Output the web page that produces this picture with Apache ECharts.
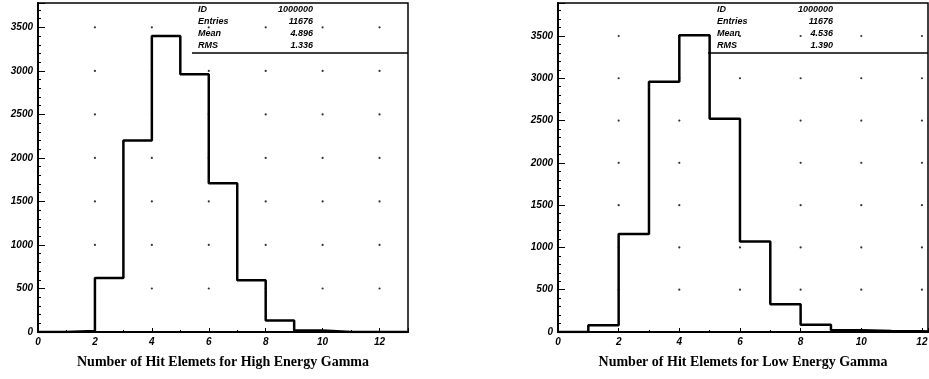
<!DOCTYPE html>
<html>
<head>
<meta charset="utf-8">
<script src="https://cdn.jsdelivr.net/npm/echarts@6/dist/echarts.min.js"></script>
<style>
html,body{margin:0;padding:0;background:#fff;}
#chart{width:929px;height:379px;}
</style>
</head>
<body>
<div id="chart"></div>
<script>
// ---- data ----
const binLowEdges = [0, 1, 2, 3, 4, 5, 6, 7, 8, 9, 10, 11, 12];
const binTopEdge = 13;
const highEnergyCounts = [0, 12, 620, 2200, 3400, 2960, 1710, 595, 133, 18, 0, 0, 0];
const lowEnergyCounts  = [0, 79, 1160, 2960, 3510, 2520, 1070, 328, 87, 22, 12, 8, 4];
const xGridTicks = [2, 4, 6, 8, 10, 12];
const yGridTicks = [500, 1000, 1500, 2000, 2500, 3000, 3500];
const statLabels = ['ID', 'Entries', 'Mean', 'RMS'];
const highStats = ['1000000', '11676', '4.896', '1.336'];
const lowStats  = ['1000000', '11676', '4.536', '1.390'];
const xTitles = ['Number of Hit Elemets for High Energy Gamma', 'Number of Hit Elemets for Low Energy Gamma'];

// ---- helpers ----
function histPoints(counts) {
  const pts = binLowEdges.map((e, i) => [e, counts[i]]);
  pts.push([binTopEdge, 0]);
  return pts;
}
function gridDots() {
  const pts = [];
  xGridTicks.forEach(x => yGridTicks.forEach(y => pts.push([x, y])));
  return pts;
}
const tickFont = { fontFamily: 'Liberation Sans', fontWeight: 'bold', fontStyle: 'italic', fontSize: 10, color: '#000', formatter: v => String(v) };

function xAxisCfg(gi, max, name) {
  return {
    type: 'value', gridIndex: gi, min: 0, max: max, interval: 2,
    name: name, nameLocation: 'middle', nameGap: 23,
    nameTextStyle: { fontFamily: 'Liberation Serif', fontWeight: 'bold', fontSize: 14, color: '#000' },
    axisLine: { show: true, onZero: false, lineStyle: { color: '#000', width: 2 } },
    axisTick: { show: true, inside: true, length: 4, lineStyle: { color: '#000' } },
    minorTick: { show: true, splitNumber: 2, length: 2, lineStyle: { color: '#000' } },
    axisLabel: Object.assign({ margin: 5, showMaxLabel: false }, tickFont),
    splitLine: { show: false }
  };
}
function yAxisCfg(gi, max) {
  return {
    type: 'value', gridIndex: gi, min: 0, max: max, interval: 500,
    axisLine: { show: true, lineStyle: { color: '#000', width: 2 } },
    axisTick: { show: true, inside: true, length: 7, lineStyle: { color: '#000' } },
    minorTick: { show: true, splitNumber: 5, length: 3, lineStyle: { color: '#000' } },
    axisLabel: Object.assign({ margin: 5, showMaxLabel: false }, tickFont),
    splitLine: { show: false }
  };
}
function histSeries(gi, counts) {
  return {
    type: 'line', xAxisIndex: gi, yAxisIndex: gi, step: 'end',
    data: histPoints(counts), showSymbol: false, symbol: 'none', silent: true,
    lineStyle: { color: '#000', width: 2.5 }, z: 3, clip: true, animation: false
  };
}
function dotSeries(gi) {
  return {
    type: 'scatter', xAxisIndex: gi, yAxisIndex: gi, data: gridDots(),
    symbol: 'circle', symbolSize: 2.2, itemStyle: { color: '#000' }, silent: true, z: 1, animation: false
  };
}

const chart = echarts.init(document.getElementById('chart'), null, { renderer: 'canvas' });

const graphics = [];
function addStats(stats, labelX, valueRight, lineLeft, lineRight) {
  const rowsY = [10, 22, 34, 46];
  statLabels.forEach((lab, i) => {
    graphics.push({ type: 'text', x: labelX, y: rowsY[i], style: { text: lab, font: 'italic bold 9px "Liberation Sans"', fill: '#000', verticalAlign: 'middle', textVerticalAlign: 'middle' } });
    graphics.push({ type: 'text', x: valueRight, y: rowsY[i], style: { text: stats[i], font: 'italic bold 9px "Liberation Sans"', fill: '#000', align: 'right', textAlign: 'right', verticalAlign: 'middle', textVerticalAlign: 'middle' } });
  });
  graphics.push({ type: 'line', shape: { x1: lineLeft, y1: 53, x2: lineRight, y2: 53 }, style: { stroke: '#000', lineWidth: 1.3 } });
}
addStats(highStats, 198, 313, 192, 408);
addStats(lowStats, 717, 833, 708, 928);

chart.setOption({
  animation: false,
  backgroundColor: '#fff',
  grid: [
    { left: 38, top: 3, width: 370, height: 329, show: true, borderColor: '#000', borderWidth: 1.5, backgroundColor: 'transparent', outerBoundsMode: 'none' },
    { left: 558, top: 3, width: 370, height: 329, show: true, borderColor: '#000', borderWidth: 1.5, backgroundColor: 'transparent', outerBoundsMode: 'none' }
  ],
  xAxis: [ xAxisCfg(0, 13, xTitles[0]), xAxisCfg(1, 12.2, xTitles[1]) ],
  yAxis: [ yAxisCfg(0, 3780), yAxisCfg(1, 3890) ],
  series: [ dotSeries(0), histSeries(0, highEnergyCounts), dotSeries(1), histSeries(1, lowEnergyCounts) ],
  graphic: graphics
});
</script>
</body>
</html>
